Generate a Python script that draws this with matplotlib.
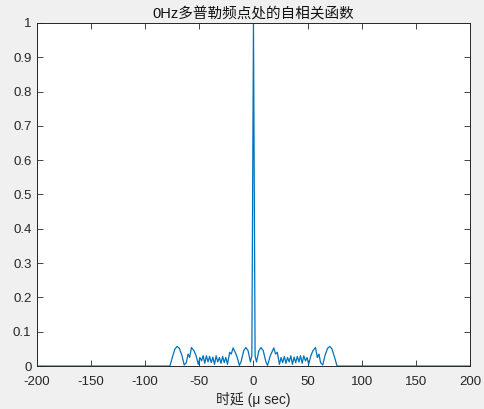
import numpy as np
import matplotlib
matplotlib.use("Agg")
from matplotlib import pyplot as plt

plt.rcParams['font.family'] = ['Liberation Sans', 'Noto Sans CJK SC', 'DejaVu Sans']
plt.rcParams['axes.unicode_minus'] = False

# autocorrelation magnitude (positive delays, mirrored)
delay_pos = [0.0, 1.5, 2.8, 5.0, 7.0, 9.0, 11.5, 13.0, 15.5, 18.8, 20.5, 22.0,
             24.0, 25.5, 27.0, 28.5, 30.0, 31.5, 33.0, 34.5, 36.0, 37.5, 39.0,
             40.5, 42.0, 43.5, 45.0, 46.5, 48.0, 49.5, 51.0, 53.0, 55.0, 57.3,
             59.0, 60.5, 62.0, 64.0, 66.0, 68.5, 70.5, 72.5, 75.0, 77.0, 77.5,
             200.0]
corr_pos = [1.0, 0.03, 0.012, 0.045, 0.054, 0.045, 0.012, 0.002, 0.03, 0.053,
            0.035, 0.04, 0.005, 0.025, 0.01, 0.028, 0.008, 0.025, 0.012, 0.03,
            0.005, 0.026, 0.01, 0.028, 0.012, 0.03, 0.008, 0.03, 0.015, 0.025,
            0.005, 0.03, 0.045, 0.054, 0.025, 0.035, 0.01, 0.003, 0.03, 0.052,
            0.057, 0.05, 0.025, 0.002, 0.0, 0.0]

xticks = [-200, -150, -100, -50, 0, 50, 100, 150, 200]
yticks = [0, 0.1, 0.2, 0.3, 0.4, 0.5, 0.6, 0.7, 0.8, 0.9, 1]
ytick_labels = ['0', '0.1', '0.2', '0.3', '0.4', '0.5', '0.6', '0.7', '0.8', '0.9', '1']

dp = np.array(delay_pos)
cp = np.array(corr_pos)
delay = np.concatenate([-dp[::-1], dp[1:]])
corr = np.concatenate([cp[::-1], cp[1:]])

fig = plt.figure(figsize=(4.84, 4.09), dpi=100, facecolor='#f0f0f0')
ax = fig.add_axes([0.0764, 0.105, 0.8946, 0.839])
ax.set_facecolor('white')
ax.plot(delay, corr, color='#0072bd', linewidth=0.9)

ax.set_xlim(-200, 200)
ax.set_ylim(0, 1)
ax.set_xticks(xticks)
ax.set_yticks(yticks)
ax.set_yticklabels(ytick_labels)
ax.tick_params(direction='in', length=4, width=0.6, top=True, right=True,
               labelsize=9.5, colors='#262626')
ax.tick_params(axis='x', pad=7)
ax.tick_params(axis='y', pad=4)
for s in ax.spines.values():
    s.set_linewidth(0.7)
    s.set_color('#262626')

ax.set_title('0Hz多普勒频点处的自相关函数', fontsize=10.5, color='#111111', pad=3)
ax.set_xlabel('时延 (μ sec)', fontsize=10, color='#262626', labelpad=3)

fig.savefig('out.png', dpi=100, facecolor=fig.get_facecolor())
